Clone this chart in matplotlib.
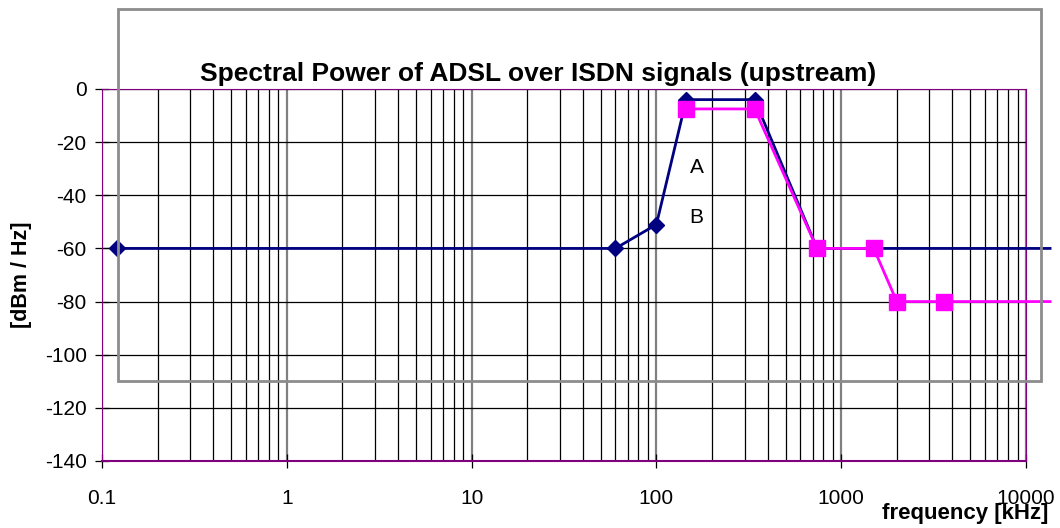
import matplotlib.pyplot as plt
from matplotlib.patches import Rectangle
from matplotlib.ticker import LogLocator, FixedLocator, NullFormatter

plt.rcParams['font.family'] = ['Liberation Sans', 'DejaVu Sans']
plt.rcParams['axes.unicode_minus'] = False

# upstream ADSL over ISDN masks, frequency in kHz, level in dBm/Hz
freq_a = [0.12, 60, 100, 145, 340, 740, 13500]
level_a = [-60, -60, -51, -4, -4, -60, -60]
freq_b = [145, 340, 740, 1500, 2000, 3600, 13500]
level_b = [-7.5, -7.5, -60, -60, -80, -80, -80]

y_ticks = [0, -20, -40, -60, -80, -100, -120, -140]
x_ticks = [0.1, 1, 10, 100, 1000, 10000]
x_labels = ['0.1', '1', '10', '100', '1000', '10000']

fig = plt.figure(figsize=(10.6, 5.28), dpi=100)
ax = fig.add_axes([102/1060, 67/528, 924/1060, 372/528])

ax.set_xscale('log')
ax.set_xlim(0.1, 10000)
ax.set_ylim(-140, 0)

ax.xaxis.set_major_locator(FixedLocator(x_ticks))
ax.set_xticklabels(x_labels)
ax.xaxis.set_minor_locator(LogLocator(base=10, subs=range(2, 10)))
ax.xaxis.set_minor_formatter(NullFormatter())
ax.set_yticks(y_ticks)

ax.grid(which='major', axis='x', color='#808080', lw=1.6)
ax.grid(which='minor', axis='x', color='black', lw=0.9)
ax.grid(which='major', axis='y', color='black', lw=0.9)
ax.set_axisbelow(True)

ax.tick_params(axis='both', which='major', direction='inout', length=10,
               width=0.9, labelsize=15)
ax.tick_params(axis='x', which='major', pad=15)
ax.tick_params(axis='y', which='major', pad=6)
ax.tick_params(axis='x', which='minor', length=0)

for side in ['left', 'right', 'top']:
    ax.spines[side].set_color('#800080')
    ax.spines[side].set_linewidth(0.8)
ax.spines['bottom'].set_color('#800080')
ax.spines['bottom'].set_linewidth(1.5)

# chart area frame
frame = Rectangle((118/1060, 1 - 381/528), 923/1060, 372/528,
                  transform=fig.transFigure, fill=False, ec='#8c8c8c',
                  lw=2, zorder=1.5)
fig.patches.append(frame)

ax.plot(freq_a, level_a, color='#000080', lw=2, marker='D', ms=8,
        markevery=[0, 1, 2, 3, 4], clip_on=False, zorder=3)
ax.plot(freq_b, level_b, color='#ff00ff', lw=2, marker='s', ms=11,
        markevery=[0, 1, 2, 3, 4, 5], clip_on=False, zorder=4)

ax.text(165, -29.4, 'A', fontsize=15, ha='center', va='center')
ax.text(165, -48.5, 'B', fontsize=15, ha='center', va='center')

fig.text(538/1060, 1 - 74/528, 'Spectral Power of ADSL over ISDN signals (upstream)',
         fontsize=19, fontweight='bold', ha='center', va='center')
fig.text(22/1060, 1 - 275/528, '[dBm / Hz]', fontsize=15.5, fontweight='bold',
         rotation=90, ha='center', va='center')
fig.text(1048/1060, 1 - 513/528, 'frequency [kHz]', fontsize=16,
         fontweight='bold', ha='right', va='center')

fig.savefig('out.png', dpi=100)
